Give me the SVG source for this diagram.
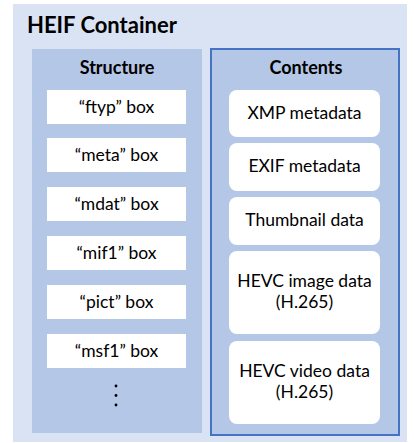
<svg xmlns="http://www.w3.org/2000/svg" width="414" height="443" viewBox="0 0 414 443">
<style>
text{font-family:Lato,"Open Sans","Liberation Sans",sans-serif;fill:#000;text-anchor:middle}
.title{font-size:22px;font-weight:bold;text-anchor:start}
.hdr{font-size:18px;font-weight:bold}
.lbl{font-size:17.5px}
.panel{fill:#b4c7e7}
.sbox{fill:#fff}
.cbox{fill:#fff}
</style>
<rect x="0" y="0" width="414" height="443" fill="#fff"/>
<g id="container">
<rect x="13" y="4" width="394" height="438" fill="#dae3f3"/>
<text class="title" x="27" y="33">HEIF Container</text>
</g>
<g id="structure">
<rect class="panel" x="32" y="49" width="170" height="384"/>
<text class="hdr" x="117" y="74">Structure</text>
</g>
<g id="ftyp"><rect class="sbox" x="47" y="90" width="139" height="34"/><text class="lbl" x="116.5" y="113">“ftyp” box</text></g>
<g id="meta"><rect class="sbox" x="47" y="138" width="139" height="34"/><text class="lbl" x="116.5" y="161">“meta” box</text></g>
<g id="mdat"><rect class="sbox" x="47" y="187" width="139" height="34"/><text class="lbl" x="116.5" y="210">“mdat” box</text></g>
<g id="mif1"><rect class="sbox" x="47" y="236" width="139" height="34"/><text class="lbl" x="116.5" y="259">“mif1” box</text></g>
<g id="pict"><rect class="sbox" x="47" y="285" width="139" height="34"/><text class="lbl" x="116.5" y="308">“pict” box</text></g>
<g id="msf1"><rect class="sbox" x="47" y="334" width="139" height="34"/><text class="lbl" x="116.5" y="357">“msf1” box</text></g>
<g id="ellipsis" fill="#000">
<circle cx="116" cy="386" r="1.4"/><circle cx="116" cy="395.5" r="1.4"/><circle cx="116" cy="405" r="1.4"/>
</g>
<g id="contents">
<rect class="panel" x="211" y="49" width="188" height="386" stroke="#4472c4" stroke-width="2"/>
<text class="hdr" x="306" y="74">Contents</text>
</g>
<g id="xmp"><rect class="cbox" x="229" y="90" width="151" height="47" rx="8"/><text class="lbl" x="304.5" y="119">XMP metadata</text></g>
<g id="exif"><rect class="cbox" x="229" y="143" width="151" height="48" rx="8"/><text class="lbl" x="304.5" y="172">EXIF metadata</text></g>
<g id="thumb"><rect class="cbox" x="229" y="197" width="151" height="48" rx="8"/><text class="lbl" x="304.5" y="226">Thumbnail data</text></g>
<g id="hevcimg"><rect class="cbox" x="229" y="251" width="151" height="83" rx="8"/><text class="lbl" x="304.5" y="287">HEVC image data</text><text class="lbl" x="304.5" y="308">(H.265)</text></g>
<g id="hevcvid"><rect class="cbox" x="229" y="341" width="151" height="83" rx="8"/><text class="lbl" x="304.5" y="377">HEVC video data</text><text class="lbl" x="304.5" y="398">(H.265)</text></g>
<g id="connectors"></g>
</svg>
